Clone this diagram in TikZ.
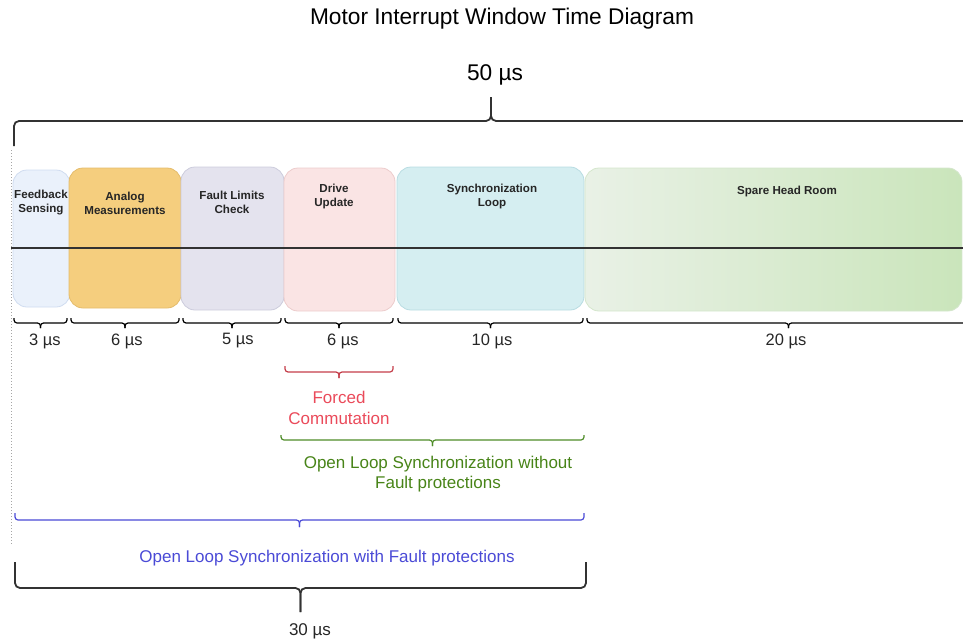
\documentclass[tikz,border=0pt]{standalone}
\usepackage{fontspec}
\setmainfont{Liberation Sans}
\usetikzlibrary{positioning}
\usetikzlibrary{calc}

\definecolor{fbfill}{RGB}{234,241,251}
\definecolor{fbline}{RGB}{208,220,240}
\definecolor{anfill}{RGB}{245,206,126}
\definecolor{anline}{RGB}{228,188,108}
\definecolor{flfill}{RGB}{228,227,238}
\definecolor{flline}{RGB}{204,204,220}
\definecolor{dufill}{RGB}{250,228,228}
\definecolor{duline}{RGB}{236,204,204}
\definecolor{slfill}{RGB}{213,238,241}
\definecolor{slline}{RGB}{184,220,226}
\definecolor{shleft}{RGB}{233,241,230}
\definecolor{shright}{RGB}{202,229,187}
\definecolor{shline}{RGB}{212,230,204}
\definecolor{darkline}{RGB}{50,50,50}
\definecolor{fcred}{RGB}{196,62,74}
\definecolor{fctext}{RGB}{234,74,90}
\definecolor{olgreen}{RGB}{78,140,40}
\definecolor{oltext}{RGB}{72,132,24}
\definecolor{fpblue}{RGB}{74,74,214}

% curly bracket: style, x left, x right, y of the ends, y of the bar, y of the tip
\newcommand{\curly}[6]{%
  \draw[#1] (#2,#4) -- (#2,#5) -- ({(#2+#3)/2},#5) -- ({(#2+#3)/2},#6);
  \draw[#1] ({(#2+#3)/2},#6) -- ({(#2+#3)/2},#5) -- (#3,#5) -- (#3,#4);}

\begin{document}
\begin{tikzpicture}[x=1pt, y=-1pt,
      stage/.style={draw, rounded corners=14pt, line width=0.8pt, inner sep=0pt},
      stagetext/.style={font=\bfseries\fontsize{11.6}{14}\selectfont, align=center, text=black!85},
      heading/.style={font=\fontsize{22.7}{27}\selectfont},
      dur/.style={font=\fontsize{16.5}{19}\selectfont, text=black!85},
      note/.style={font=\fontsize{17}{20.5}\selectfont, align=center},
      bracket/.style={line width=1.2pt, rounded corners=3pt},
      bigbracket/.style={line width=1.8pt, rounded corners=5pt, draw=darkline}
    ]
    \useasboundingbox (0,0) rectangle (963,642);
    \clip (0,0) rectangle (963,642);

    % title and total window
    \node [heading] (title) at (502,19) {Motor Interrupt Window Time Diagram};
    \node [heading] (total) at (495,75) {50 µs};
    \curly{bigbracket}{14}{968}{146}{121}{97}

    % start marker
    \draw[dotted, line width=1pt, gray!70] (11,150) -- (11,545);

    % stages
    \node [stage, fill=fbfill, draw=fbline, minimum width=57pt, minimum height=137pt] (fb) at (41.5,238.5) {};
    \node [stage, fill=anfill, draw=anline, minimum width=112pt, minimum height=140pt] (an) at (125,238) {};
    \node [stage, fill=flfill, draw=flline, minimum width=103pt, minimum height=143pt] (fl) at (232.5,238.5) {};
    \node [stage, fill=dufill, draw=duline, minimum width=111pt, minimum height=143pt] (du) at (339.5,239.5) {};
    \node [stage, fill=slfill, draw=slline, minimum width=187pt, minimum height=143pt] (sl) at (490.5,238.5) {};
    \node [stage, left color=shleft, right color=shright, draw=shline, minimum width=377pt, minimum height=143pt] (sh) at (773.5,239.5) {};

    \node [stagetext] (fbtxt) at (41,203) {Feedback\\Sensing};
    \node [stagetext] (antxt) at (125,203) {Analog\\Measurements};
    \node [stagetext] (fltxt) at (232,202) {Fault Limits\\Check};
    \node [stagetext] (dutxt) at (334,196) {Drive\\Update};
    \node [stagetext] (sltxt) at (492,196) {Synchronization\\Loop};
    \node [stagetext] (shtxt) at (787,191) {Spare Head Room};

    % time axis
    \draw[line width=1.2pt, darkline] (11,248) -- (963,248);

    % durations
    \curly{bracket}{14}{67}{318}{323}{328}
    \curly{bracket}{71}{179}{318}{323}{328}
    \curly{bracket}{183}{281}{318}{323}{328}
    \curly{bracket}{285}{393}{318}{323}{328}
    \curly{bracket}{398}{583}{318}{323}{328}
    \curly{bracket}{587}{990}{318}{323}{328}
    \node [dur] (d1) at (45,341) {3 µs};
    \node [dur] (d2) at (127,341) {6 µs};
    \node [dur] (d3) at (238,341) {5 µs};
    \node [dur] (d4) at (343,341) {6 µs};
    \node [dur] (d5) at (492,341) {10 µs};
    \node [dur] (d6) at (786,341) {20 µs};

    % operating modes
    \curly{bracket, draw=fcred}{285}{393}{366}{372}{378}
    \node [note, text=fctext] (forced) at (339,408) {Forced\\Commutation};
    \curly{bracket, draw=olgreen}{281}{584}{435}{440}{446}
    \node [note, text=oltext] (nofault) at (438,474) {Open Loop Synchronization without\\Fault protections};
    \curly{bracket, draw=fpblue}{15}{584}{513}{520}{527}
    \node [note, text=fpblue] (withfault) at (327,558) {Open Loop Synchronization with Fault protections};

    % used part of the window
    \curly{bigbracket}{15}{586}{562}{588}{612}
    \node [dur, font=\fontsize{17}{20}\selectfont] (used) at (310,631) {30 µs};

\end{tikzpicture}
\end{document}
